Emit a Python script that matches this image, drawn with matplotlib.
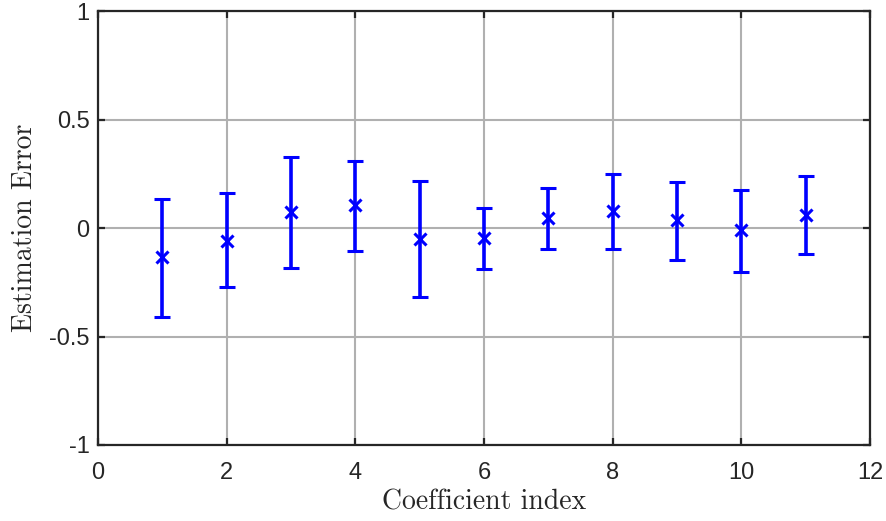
import matplotlib
matplotlib.use('Agg')
import matplotlib.pyplot as plt
import numpy as np

# coefficient index and estimation error (mean, lower end, upper end)
idx = [1, 2, 3, 4, 5, 6, 7, 8, 9, 10, 11]
err_mean = [-0.134, -0.057, 0.074, 0.105, -0.052, -0.046, 0.045, 0.080, 0.037, -0.009, 0.063]
err_low = [-0.409, -0.272, -0.183, -0.106, -0.318, -0.186, -0.098, -0.098, -0.146, -0.201, -0.121]
err_high = [0.136, 0.163, 0.329, 0.309, 0.216, 0.092, 0.185, 0.252, 0.214, 0.177, 0.242]

xticks = [0, 2, 4, 6, 8, 10, 12]
yticks = [-1, -0.5, 0, 0.5, 1]
ytick_labels = ['-1', '-0.5', '0', '0.5', '1']

plt.rcParams['font.family'] = 'Liberation Sans'

fig = plt.figure(figsize=(8.86, 5.21), dpi=100)
ax = fig.add_axes([0.1106, 0.146, 0.8714, 0.832])

mean = np.array(err_mean)
yerr = [mean - np.array(err_low), np.array(err_high) - mean]
ax.errorbar(idx, mean, yerr=yerr, fmt='x', color='#0000ff', ecolor='#0000ff',
            elinewidth=2.6, capsize=6, capthick=2.6, markersize=8, mew=2.2, zorder=3)

ax.set_xlim(0, 12)
ax.set_ylim(-1, 1)
ax.set_xticks(xticks)
ax.set_yticks(yticks)
ax.set_yticklabels(ytick_labels)
ax.grid(True, color='#b0b0b0', linewidth=1.5)
ax.set_axisbelow(True)

for s in ax.spines.values():
    s.set_color('#262626')
    s.set_linewidth(1.6)
ax.tick_params(direction='in', length=5, width=1.6, color='#262626',
               labelsize=17, labelcolor='#262626', top=True, right=True)
ax.tick_params(axis='x', pad=12)
ax.tick_params(axis='y', pad=6)

ax.set_xlabel('Coefficient index', fontname='cmr10', fontsize=20, color='#262626', labelpad=4)
ax.set_ylabel('Estimation Error', fontname='cmr10', fontsize=20, color='#262626', labelpad=8)

fig.savefig('out.png', dpi=100)
